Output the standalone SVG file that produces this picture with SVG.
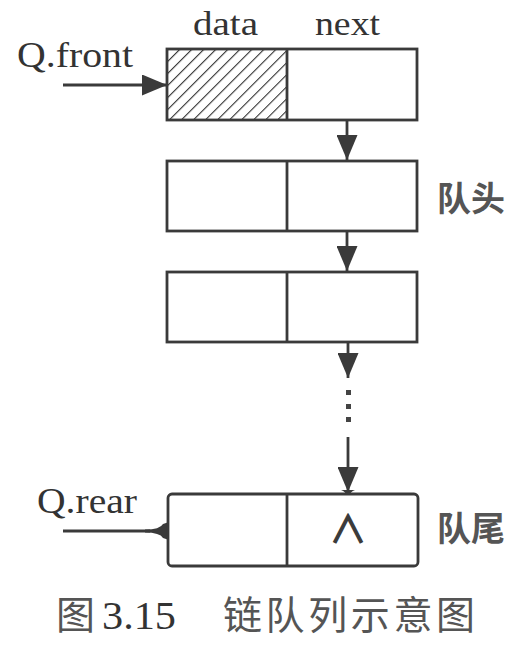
<svg xmlns="http://www.w3.org/2000/svg" width="514" height="647" viewBox="0 0 514 647">
<defs>
<style>
.box{fill:#fff;stroke:#3a3a3a;stroke-width:2.8}
.ln{stroke:#3a3a3a;stroke-width:2.8;fill:none}
.lat{font-family:"Liberation Serif","Times New Roman",serif;fill:#333}
.cjk{font-family:"Noto Sans CJK SC",sans-serif;fill:#555}
.dot{fill:#444}
</style>
<pattern id="hatch" patternUnits="userSpaceOnUse" width="8.5" height="8.5" patternTransform="rotate(45)">
<line x1="0" y1="0" x2="0" y2="8.5" stroke="#333" stroke-width="2.2"/>
</pattern>
<marker id="ah" markerUnits="userSpaceOnUse" markerWidth="25" markerHeight="21" refX="25" refY="10.5" orient="auto">
<path d="M0,0 L25,10.5 L0,21 z" fill="#3a3a3a"/>
</marker>
</defs>

<g id="connectors">
<line class="ln" x1="63" y1="85" x2="167" y2="85" marker-end="url(#ah)"/>
<line class="ln" x1="347" y1="88" x2="347" y2="160" marker-end="url(#ah)"/>
<line class="ln" x1="347" y1="198" x2="347" y2="271" marker-end="url(#ah)"/>
<line class="ln" x1="348" y1="310" x2="348" y2="378" marker-end="url(#ah)"/>
<rect class="dot" x="346" y="390" width="5" height="5"/>
<rect class="dot" x="346" y="404" width="5" height="5"/>
<rect class="dot" x="346" y="417" width="5" height="5"/>
<line class="ln" x1="348" y1="437" x2="348" y2="492" marker-end="url(#ah)"/>
<path d="M341,490 Q346,492 346,495 L350,495 Q350,492 355,490 z" fill="#3a3a3a"/>
<line class="ln" x1="63" y1="531" x2="150" y2="531"/>
<path d="M145,529.5 Q160,529.5 163,524 L169,522 L169,540 L163,538 Q160,532.5 145,532.5 z" fill="#3a3a3a"/>
</g>

<g id="node1">
<rect class="box" x="167" y="49" width="250" height="71"/>
<rect x="168" y="50" width="119" height="69" fill="url(#hatch)"/>
<line class="ln" x1="287" y1="49" x2="287" y2="120"/>
</g>

<g id="node2">
<rect class="box" x="167" y="161" width="250" height="70"/>
<line class="ln" x1="287" y1="161" x2="287" y2="231"/>
</g>

<g id="node3">
<rect class="box" x="167" y="272" width="250" height="70"/>
<line class="ln" x1="287" y1="272" x2="287" y2="342"/>
</g>

<g id="node4">
<rect class="box" x="168" y="494" width="250" height="72" rx="4"/>
<line class="ln" x1="287" y1="494" x2="287" y2="566"/>
<text x="348" y="543" text-anchor="middle" font-family="Noto Sans CJK SC, sans-serif" font-weight="400" font-size="37" fill="#3a3a3a" stroke="#3a3a3a" stroke-width="1.3">∧</text>
</g>

<g id="labels">
<text class="lat" x="193" y="35" font-size="34" textLength="65" lengthAdjust="spacingAndGlyphs">data</text>
<text class="lat" x="315" y="35" font-size="34" textLength="65" lengthAdjust="spacingAndGlyphs">next</text>
<text class="lat" x="17" y="67" font-size="35" textLength="116" lengthAdjust="spacingAndGlyphs">Q.front</text>
<text class="lat" x="37" y="513" font-size="35" textLength="100" lengthAdjust="spacingAndGlyphs">Q.rear</text>
<text class="cjk" x="437" y="211" font-size="34" font-weight="bold">队头</text>
<text class="cjk" x="437" y="541" font-size="34" font-weight="bold">队尾</text>
<text x="56" y="629" font-size="39" fill="#555"><tspan class="cjk">图</tspan><tspan class="lat" x="102" fill="#555" textLength="74" lengthAdjust="spacingAndGlyphs">3.15</tspan><tspan class="cjk" x="223" textLength="252" lengthAdjust="spacing">链队列示意图</tspan></text>
</g>
</svg>
